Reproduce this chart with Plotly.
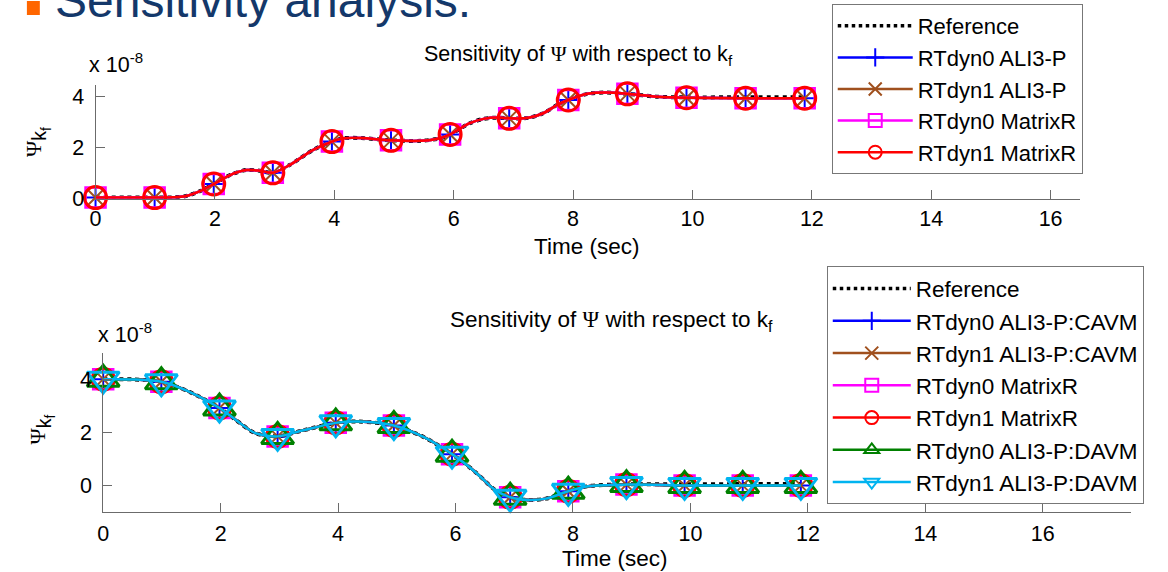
import plotly.graph_objects as go

W, H = 1168, 572          # reference picture size (design coordinates)
FIG_H = 586               # rendered page height (picture gets fitted to 572)
FONT = "Arial, Liberation Sans, sans-serif"

# ---------------- data (values in units of 1e-8) ----------------
marker_t = [0, 0.99, 1.98, 2.97, 3.96, 4.95, 5.94, 6.93, 7.92, 8.91, 9.9, 10.89, 11.88]

top_t = [0, 0.5, 0.99, 1.3, 1.5, 1.75, 1.98, 2.29, 2.53, 2.75, 2.97, 3.25, 3.64, 3.96,
         4.15, 4.45, 4.95, 5.45, 5.75, 5.94, 6.26, 6.5, 6.75, 6.93, 7.25, 7.5, 7.75,
         7.92, 8.24, 8.56, 8.91, 9.4, 9.9, 10.89, 11.88]
top_v = [0.05, 0.05, 0.05, 0.06, 0.1, 0.3, 0.58, 0.97, 1.13, 1.1, 1.02, 1.32, 1.91, 2.24,
         2.37, 2.38, 2.29, 2.27, 2.36, 2.52, 2.95, 3.13, 3.18, 3.15, 3.17, 3.35, 3.7,
         3.87, 4.11, 4.16, 4.11, 4.0, 3.96, 3.94, 3.94]
top_ref_v = [0.05, 0.05, 0.05, 0.06, 0.1, 0.3, 0.58, 0.97, 1.13, 1.1, 1.02, 1.32, 1.91, 2.24,
             2.37, 2.38, 2.29, 2.27, 2.36, 2.52, 2.95, 3.13, 3.18, 3.15, 3.17, 3.35, 3.7,
             3.87, 4.11, 4.16, 4.11, 4.0, 3.97, 3.98, 3.98]

bot_t = [0, 0.5, 0.99, 1.47, 1.98, 2.27, 2.59, 2.97, 3.39, 3.96, 4.35, 4.95, 5.47, 5.94,
         6.35, 6.66, 6.93, 7.23, 7.54, 7.92, 8.26, 8.91, 9.9, 10.89, 11.88]
bot_v = [4.01, 4.0, 3.91, 3.53, 2.92, 2.45, 1.97, 1.85, 2.07, 2.36, 2.41, 2.26, 1.81, 1.18,
         0.48, -0.15, -0.45, -0.55, -0.5, -0.22, -0.03, 0.03, 0.0, 0.0, 0.0]
bot_ref_v = [4.01, 4.0, 3.91, 3.53, 2.92, 2.45, 1.97, 1.85, 2.07, 2.36, 2.41, 2.26, 1.81, 1.18,
             0.48, -0.15, -0.45, -0.55, -0.5, -0.22, -0.03, 0.04, 0.04, 0.05, 0.05]

top_names = ["RTdyn0 ALI3-P", "RTdyn1 ALI3-P", "RTdyn0 MatrixR", "RTdyn1 MatrixR"]
bot_names = ["RTdyn0 ALI3-P:CAVM", "RTdyn1 ALI3-P:CAVM", "RTdyn0 MatrixR",
             "RTdyn1 MatrixR", "RTdyn0 ALI3-P:DAVM", "RTdyn1 ALI3-P:DAVM"]

x_ticks = [0, 2, 4, 6, 8, 10, 12, 14, 16]
y_ticks_top = [0, 2, 4]
y_ticks_bot = [0, 2, 4]

# ---------------- styles ----------------
styles = [
    dict(color="#0000FF", symbol="cross-thin-open", size=17, lw=2),
    dict(color="#A0501E", symbol="x-thin-open", size=15, lw=2),
    dict(color="#FF00FF", symbol="square-open", size=20, lw=2.5),
    dict(color="#FF0000", symbol="circle-open", size=22, lw=3),
    dict(color="#008000", symbol="triangle-up-open", size=28, lw=3),
    dict(color="#00B4F0", symbol="triangle-down-open", size=28, lw=3),
]


def px(x):
    return x / W


def py(y):
    return 1 - y / H


fig = go.Figure()


def add_series(t, v, ref_v, names, xa, ya, leg, gprefix):
    mk_idx = [t.index(m) for m in marker_t]
    fig.add_trace(go.Scatter(x=t, y=ref_v, mode="lines", xaxis=xa, yaxis=ya,
                             line=dict(color="black", width=4, dash="dot", shape="spline", smoothing=0.8),
                             showlegend=False, cliponaxis=False, hoverinfo="skip"))
    fig.add_trace(go.Scatter(x=[None], y=[None], mode="lines", name="Reference", xaxis=xa, yaxis=ya,
                             line=dict(color="black", width=3.5, dash="dot"),
                             legend=leg, legendgroup=gprefix + "ref", showlegend=True))
    for i, name in enumerate(names):
        s = styles[i]
        fig.add_trace(go.Scatter(x=t, y=v, mode="lines", xaxis=xa, yaxis=ya,
                                 line=dict(color=s["color"], width=2.5, shape="spline", smoothing=0.8),
                                 showlegend=False, cliponaxis=False, hoverinfo="skip"))
        fig.add_trace(go.Scatter(x=[t[k] for k in mk_idx], y=[v[k] for k in mk_idx], mode="markers",
                                 xaxis=xa, yaxis=ya,
                                 marker=dict(symbol=s["symbol"], size=s["size"], color=s["color"],
                                             line=dict(color=s["color"], width=s["lw"])),
                                 showlegend=False, cliponaxis=False, hoverinfo="skip"))
        fig.add_trace(go.Scatter(x=[None], y=[None], mode="lines+markers", name=name, xaxis=xa, yaxis=ya,
                                 line=dict(color=s["color"], width=2.5),
                                 marker=dict(symbol=s["symbol"], size=13, color=s["color"],
                                             line=dict(color=s["color"], width=2)),
                                 legend=leg, legendgroup=gprefix + str(i), showlegend=True))


add_series(top_t, top_v, top_ref_v, top_names, "x", "y", "legend", "a")
add_series(bot_t, bot_v, bot_ref_v, bot_names, "x2", "y2", "legend2", "b")

axis_common = dict(showline=True, linecolor="#6b6b6b", linewidth=1, ticks="inside", ticklen=9,
                   tickcolor="#6b6b6b", tickwidth=1, showgrid=False, zeroline=False, mirror=False,
                   tickfont=dict(size=21.5, color="black", family=FONT), fixedrange=True)

fig.update_layout(
    width=W, height=FIG_H, autosize=False,
    margin=dict(l=0, r=0, t=0, b=0, pad=0),
    paper_bgcolor="white", plot_bgcolor="white",
    font=dict(family=FONT, color="black"),
    xaxis=dict(domain=[px(90), px(1080)], range=[0, 16.5], tickvals=x_ticks, anchor="y",
               ticklabelstandoff=0, **axis_common),
    yaxis=dict(domain=[py(198.5), py(85)], range=[0, 4.45], tickvals=y_ticks_top, anchor="x",
               ticklabelstandoff=6, **axis_common),
    xaxis2=dict(domain=[px(97.7), px(1130.7)], range=[0, 17.5], tickvals=x_ticks, anchor="y2",
                ticklabelstandoff=2, **axis_common),
    yaxis2=dict(domain=[py(511), py(352.3)], range=[-1, 5], tickvals=y_ticks_bot, anchor="x2",
                ticklabelstandoff=6, **axis_common),
    legend=dict(x=px(830), y=py(4), xanchor="left", yanchor="top", bgcolor="white",
                bordercolor="#777777", borderwidth=1, itemwidth=75, tracegroupgap=0,
                traceorder="grouped", font=dict(size=22, color="black", family=FONT)),
    legend2=dict(x=px(825), y=py(266), xanchor="left", yanchor="top", bgcolor="white",
                 bordercolor="#777777", borderwidth=1, itemwidth=78, tracegroupgap=0,
                 traceorder="grouped", font=dict(size=22.5, color="black", family=FONT)),
)

PSI = '<span style="font-family:Liberation Serif">Ψ</span>'
PSI_AX = '<span style="font-family:Liberation Serif;font-size:22px">Ψ</span>'
ann = [
    dict(text="Sensitivity analysis:", x=px(47), y=py(0), xanchor="left", yanchor="middle",
         font=dict(size=48, color="#14386A", family=FONT)),
    dict(text="Sensitivity of " + PSI + " with respect to k<sub>f</sub>", x=px(575), y=py(40),
         xanchor="center", yanchor="top", font=dict(size=21.5, color="black", family=FONT)),
    dict(text="Sensitivity of " + PSI + " with respect to k<sub>f</sub>", x=px(609), y=py(304),
         xanchor="center", yanchor="top", font=dict(size=22.5, color="black", family=FONT)),
    dict(text="x 10<sup>-8</sup>", x=px(81), y=py(79), xanchor="left", yanchor="bottom",
         font=dict(size=21.5, color="black", family=FONT)),
    dict(text="x 10<sup>-8</sup>", x=px(90), y=py(348), xanchor="left", yanchor="bottom",
         font=dict(size=21.5, color="black", family=FONT)),
    dict(text="Time (sec)", x=px(583), y=py(232), xanchor="center", yanchor="top",
         font=dict(size=22.5, color="black", family=FONT)),
    dict(text="Time (sec)", x=px(612), y=py(543), xanchor="center", yanchor="top",
         font=dict(size=22.5, color="black", family=FONT)),
    dict(text=PSI_AX + "<sub>k<sub>f</sub></sub>", x=px(31), y=py(142), textangle=-90,
         xanchor="center", yanchor="middle", font=dict(size=28, color="black", family=FONT)),
    dict(text=PSI_AX + "<sub>k<sub>f</sub></sub>", x=px(36), y=py(429), textangle=-90,
         xanchor="center", yanchor="middle", font=dict(size=28, color="black", family=FONT)),
]
for a in ann:
    a.update(xref="paper", yref="paper", showarrow=False)
fig.update_layout(annotations=ann)

fig.add_shape(type="rect", xref="paper", yref="paper", x0=px(21), x1=px(34), y0=py(15), y1=py(1),
              fillcolor="#FF6600", line=dict(width=0))

fig.write_html(
    "out.html",
    config={"displayModeBar": False},
    post_script="document.body.style.margin='0px';document.body.style.overflow='hidden';"
                "document.documentElement.style.overflow='hidden';",
)
